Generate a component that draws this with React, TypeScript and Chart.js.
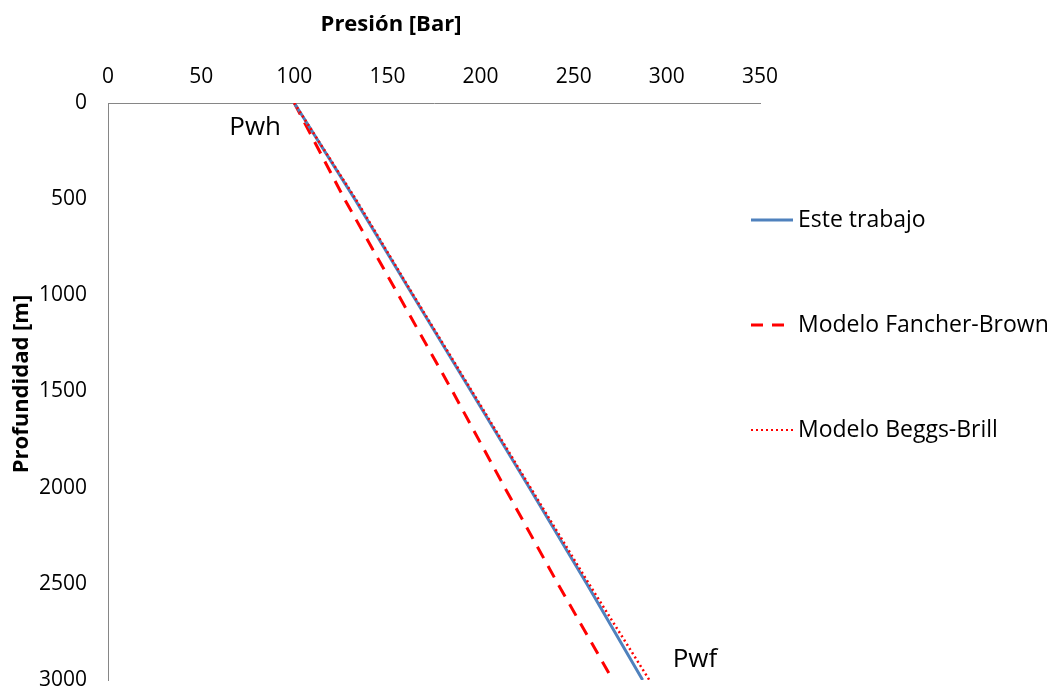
import React, { useEffect, useRef } from "react";
import { Chart, registerables } from "chart.js";

Chart.register(...registerables);

const depths = [0, 500, 1000, 1500, 2000, 2500, 3000];
const esteTrabajo = [100, 132.5, 163.6, 195, 226.2, 257, 287];
const fancherBrown = [100, 127, 156, 185, 213, 241.5, 271];
const beggsBrill = [100, 133, 164, 195.5, 226.8, 258.2, 290.6];

const xTicks = [0, 50, 100, 150, 200, 250, 300, 350];
const yTicks = [0, 500, 1000, 1500, 2000, 2500, 3000];

const xTitle = "Presión [Bar]";
const yTitle = "Profundidad [m]";
const seriesNames = ["Este trabajo", "Modelo Fancher-Brown", "Modelo Beggs-Brill"];
const annotations = [
  { text: "Pwh", x: 100, y: 0 },
  { text: "Pwf", x: 287, y: 3000 },
];

const FONT = "'Open Sans', sans-serif";
const BLUE = "#4F81BD";
const RED = "#FF0000";

const toPts = (xs: number[]) => xs.map((x, i) => ({ x, y: depths[i] }));

export default function App() {
  const ref = useRef<HTMLCanvasElement | null>(null);

  useEffect(() => {
    document.body.style.margin = "0";
    const canvas = ref.current;
    if (!canvas) return;

    const overlay = {
      id: "overlay",
      afterDraw(chart: any) {
        const ctx = chart.ctx;
        const xs = chart.scales.x;
        const ys = chart.scales.y;
        ctx.save();
        ctx.fillStyle = "#000";
        ctx.textBaseline = "middle";

        // Axis titles
        ctx.font = `bold 22px ${FONT}`;
        ctx.textAlign = "center";
        ctx.fillText(xTitle, 391, 25);
        ctx.save();
        ctx.translate(22, 384);
        ctx.rotate(-Math.PI / 2);
        ctx.fillText(yTitle, 0, 0);
        ctx.restore();

        // Annotations
        ctx.font = `26px ${FONT}`;
        ctx.textAlign = "left";
        ctx.fillText(annotations[0].text, xs.getPixelForValue(annotations[0].x) - 65, ys.getPixelForValue(annotations[0].y) + 25);
        ctx.fillText(annotations[1].text, xs.getPixelForValue(annotations[1].x) + 30, ys.getPixelForValue(annotations[1].y) - 20);

        // Legend
        const lx = 751;
        const tx = 798;
        const rows = [220, 325, 430];
        const styles = [
          { color: BLUE, dash: [] as number[], width: 3, len: 42 },
          { color: RED, dash: [12, 9], width: 3, len: 36 },
          { color: RED, dash: [2, 3], width: 2, len: 42 },
        ];
        ctx.font = `23px ${FONT}`;
        rows.forEach((ry, i) => {
          const s = styles[i];
          ctx.beginPath();
          ctx.strokeStyle = s.color;
          ctx.lineWidth = s.width;
          ctx.setLineDash(s.dash);
          ctx.moveTo(lx, ry);
          ctx.lineTo(lx + s.len, ry);
          ctx.stroke();
          ctx.setLineDash([]);
          ctx.fillStyle = "#000";
          ctx.textAlign = "left";
          ctx.fillText(seriesNames[i], tx, ry);
        });
        ctx.restore();
      },
    };

    const chart = new Chart(canvas, {
      type: "line",
      data: {
        datasets: [
          {
            label: seriesNames[0],
            data: toPts(esteTrabajo),
            borderColor: BLUE,
            borderWidth: 3,
            pointRadius: 0,
            order: 1,
          },
          {
            label: seriesNames[1],
            data: toPts(fancherBrown),
            borderColor: RED,
            borderWidth: 3,
            borderDash: [13, 9],
            pointRadius: 0,
            order: 2,
          },
          {
            label: seriesNames[2],
            data: toPts(beggsBrill),
            borderColor: RED,
            borderWidth: 2.5,
            borderDash: [2, 3],
            pointRadius: 0,
            order: 0,
          },
        ],
      },
      options: {
        animation: false,
        responsive: false,
        maintainAspectRatio: false,
        layout: { padding: { top: 0, left: 0, right: 289, bottom: 9 } },
        plugins: {
          legend: { display: false },
          tooltip: { enabled: false },
        },
        scales: {
          x: {
            type: "linear",
            position: "top",
            min: 0,
            max: 350,
            afterBuildTicks: (s: any) => {
              s.ticks = xTicks.map((v) => ({ value: v }));
            },
            afterFit: (s: any) => {
              s.height = 103;
              s.paddingLeft = 0;
              s.paddingRight = 0;
            },
            ticks: {
              color: "#000",
              font: { family: FONT, size: 21 },
              padding: 13,
              callback: (v: any) => String(v),
            },
            grid: { display: true, drawOnChartArea: false, drawTicks: false },
            border: { display: true, color: "#868686", width: 1 },
            title: { display: false },
          },
          y: {
            type: "linear",
            reverse: true,
            min: 0,
            max: 3000,
            afterBuildTicks: (s: any) => {
              s.ticks = yTicks.map((v) => ({ value: v }));
            },
            afterFit: (s: any) => {
              s.width = 108;
              s.paddingTop = 0;
              s.paddingBottom = 0;
            },
            ticks: {
              color: "#000",
              font: { family: FONT, size: 21 },
              padding: 21,
              callback: (v: any) => String(v),
            },
            grid: { display: true, drawOnChartArea: false, drawTicks: false },
            border: { display: true, color: "#868686", width: 1 },
            title: { display: false },
          },
        },
      },
      plugins: [overlay],
    });

    return () => chart.destroy();
  }, []);

  return (
    <div style={{ position: "fixed", left: 0, top: 0, width: 1049, height: 689, background: "#fff" }}>
      <canvas ref={ref} width={1049} height={689} style={{ width: 1049, height: 689, display: "block" }} />
    </div>
  );
}
